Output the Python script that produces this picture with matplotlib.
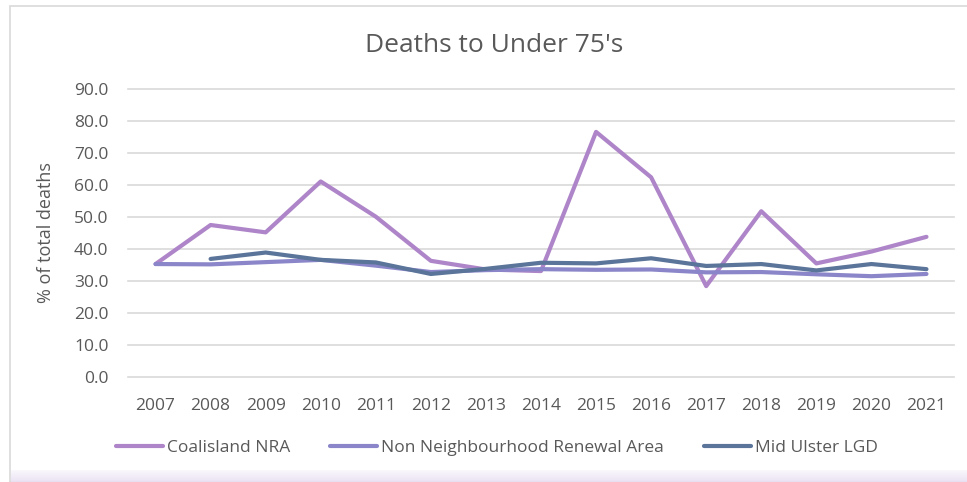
import numpy as np
import matplotlib.pyplot as plt
from matplotlib.patches import Rectangle

plt.rcParams['font.family'] = ['Open Sans', 'DejaVu Sans']

years = list(range(2007, 2022))
coalisland = [35.3, 47.5, 45.2, 61.1, 50.1, 36.3, 33.6, 33.1, 76.6, 62.4, 28.4, 51.8, 35.5, 39.2, 43.8]
non_nra = [35.3, 35.2, 35.9, 36.6, 34.8, 32.8, 33.4, 33.7, 33.5, 33.6, 32.7, 32.8, 32.1, 31.5, 32.2]
mid_ulster_years = list(range(2008, 2022))
mid_ulster = [36.9, 38.9, 36.6, 35.8, 32.2, 33.8, 35.7, 35.5, 37.1, 34.7, 35.3, 33.3, 35.3, 33.7]

text_col = '#595959'

fig = plt.figure(figsize=(9.67, 4.82), dpi=100)

# chart frame and bottom tint
fig.patches.append(Rectangle((10 / 967, 0), 1, 476 / 482, transform=fig.transFigure,
                             facecolor='white', edgecolor='#D9D9D9', linewidth=1.2, zorder=-2))
for i in range(12):
    fig.patches.append(Rectangle((11 / 967, (12 - i) / 482 - 1 / 482), 1, 1 / 482 + 0.001,
                                 transform=fig.transFigure, facecolor='#E9E0F2',
                                 alpha=0.25 + 0.06 * i, edgecolor='none', zorder=-1))

ax = fig.add_axes([128 / 967, 105 / 482, 826 / 967, 288 / 482])
ax.set_facecolor('none')

ax.plot(years, coalisland, color='#AE85C8', lw=3, label='Coalisland NRA', solid_capstyle='round')
ax.plot(years, non_nra, color='#8A86C9', lw=3, label='Non Neighbourhood Renewal Area', solid_capstyle='round')
ax.plot(mid_ulster_years, mid_ulster, color='#5B7499', lw=3, label='Mid Ulster LGD', solid_capstyle='round')

ax.set_xlim(2006.5, 2021.5)
ax.set_ylim(0, 90)
ax.set_yticks(np.arange(0, 91, 10))
ax.set_yticklabels([f'{v:.1f}' for v in np.arange(0, 91, 10)])
ax.set_xticks(years)
ax.grid(axis='y', color='#D9D9D9', lw=1.2)
for gl in ax.get_ygridlines():
    gl.set_clip_on(False)
ax.set_axisbelow(True)
for s in ax.spines.values():
    s.set_visible(False)
ax.tick_params(length=0, colors=text_col, labelsize=12.5)
ax.tick_params(axis='x', pad=15)
ax.tick_params(axis='y', pad=14)
ax.set_ylabel('% of total deaths', color=text_col, fontsize=13)
ax.yaxis.set_label_coords((55 - 128) / 826, 0.5)

fig.text(494 / 967, 1 - 46 / 482, "Deaths to Under 75's", ha='center', va='center',
         fontsize=19, color=text_col)

leg = fig.legend(loc='center', bbox_to_anchor=(497 / 967, 1 - 448 / 482), ncol=3,
                 frameon=False, fontsize=12.5, handlelength=2.7, handletextpad=0.25,
                 columnspacing=2.3)
for t in leg.get_texts():
    t.set_color(text_col)

fig.savefig('out.png', dpi=100)
